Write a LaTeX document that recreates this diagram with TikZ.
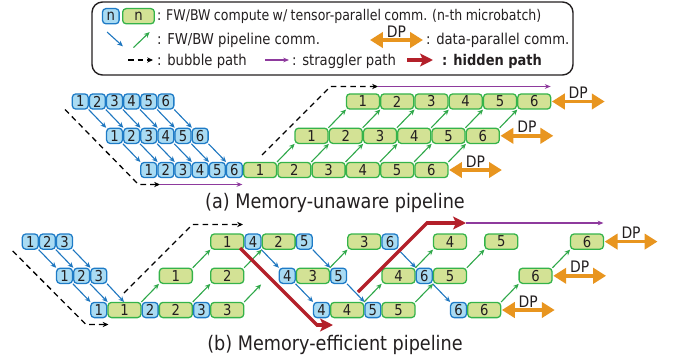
\documentclass[tikz,border=0pt]{standalone}
\usepackage{fontspec}
\setmainfont{DejaVu Sans}[FakeStretch=0.88]
\newfontfamily\narrowfont{DejaVu Sans}[FakeStretch=0.85,WordSpace=0.85]
\usetikzlibrary{arrows.meta,calc}
\definecolor{bfill}{HTML}{A9DBF3}
\definecolor{bdraw}{HTML}{1E7BC6}
\definecolor{gfill}{HTML}{D3E295}
\definecolor{gdraw}{HTML}{35B34A}
\definecolor{barrow}{HTML}{1F77C0}
\definecolor{garrow}{HTML}{2FA84A}
\definecolor{dporange}{HTML}{E8951F}
\definecolor{purp}{HTML}{8E3A9D}
\definecolor{hred}{HTML}{B3202A}
\definecolor{txt}{HTML}{231F20}
\newcommand\BN[4]{\node[bbox] (#1) at ({21.7+17.13*(#2+0.5)},#3) {#4};}
\newcommand\GN[4]{\node[gbox] (#1) at ({21.7+17.13*(#2+1)},#3) {#4};}
\begin{document}
\begin{tikzpicture}[x=0.03cm,y=-0.03cm,
  bbox/.style={draw=bdraw,fill=bfill,line width=1.1pt,rounded corners=3pt,minimum width=0.477cm,minimum height=0.456cm,inner sep=0pt,outer sep=0pt,font=\fontsize{12.8}{13}\selectfont,text=txt},
  gbox/.style={bbox,draw=gdraw,fill=gfill,minimum width=0.989cm},
  barr/.style={draw=barrow,line width=0.95pt,-{Stealth[length=4.8pt,width=4.3pt]},shorten <=0.5pt,shorten >=0.5pt},
  garr/.style={barr,draw=garrow},
  bubble/.style={draw=black,line width=1.1pt,dash pattern=on 4.8pt off 3.5pt,-{Stealth[length=5pt,width=4.5pt]}},
  strag/.style={draw=purp,line width=0.9pt,-{Stealth[length=5pt,width=4pt]}},
  hid/.style={draw=hred,line width=3pt,-{Stealth[length=11pt,width=11pt,inset=2.5pt]}},
  dp/.style={draw=dporange,line width=3.2pt,{Triangle[length=11pt,width=13pt]}-{Triangle[length=11pt,width=13pt]}},
  dpl/.style={font=\fontsize{13.5}{14}\selectfont,text=txt,inner sep=0pt},
  legt/.style={font=\fontsize{12.8}{14}\selectfont,text=txt,inner sep=0pt},
  capt/.style={font=\fontsize{17.1}{18}\selectfont,text=txt,inner sep=0pt},
]
\useasboundingbox (0,0) rectangle (676,361);

% ---------------- legend ----------------
\draw[draw=txt,line width=1.2pt,rounded corners=9pt] (92,2) rectangle (573,75);
\node[bbox,minimum width=0.5cm] (lb) at (110.8,16.2) {n};
\node[gbox,minimum width=0.951cm] (lg) at (138.5,16.2) {n};
\node[legt,anchor=base west,font=\fontsize{12.6}{14}\narrowfont] (l1) at (157,20.5) {: FW/BW compute w/ tensor-parallel comm. (n-th microbatch)};
\coordinate (lba1) at (106.7,31.7); \coordinate (lba2) at (123.3,46.7);
\coordinate (lga1) at (133,48); \coordinate (lga2) at (150,31.7);
\draw[barr] (lba1) -- (lba2);
\draw[garr] (lga1) -- (lga2);
\node[legt,anchor=base west] (l2) at (157,44.5) {: FW/BW pipeline comm.};
\coordinate (ldp1) at (370,40); \coordinate (ldp2) at (423,40);
\draw[dp] (ldp1) -- (ldp2);
\node[dpl] (ldpl) at (396.5,31.5) {DP};
\node[legt,anchor=base west] (l3) at (426,44.5) {: data-parallel comm.};
\coordinate (lbu1) at (128,60); \coordinate (lbu2) at (153,60);
\draw[bubble] (lbu1) -- (lbu2);
\node[legt,anchor=base west] (l4) at (157,65) {: bubble path};
\coordinate (lst1) at (265,60); \coordinate (lst2) at (289,60);
\draw[strag] (lst1) -- (lst2);
\node[legt,anchor=base west] (l5) at (292,65) {: straggler path};
\coordinate (lhi1) at (407,60); \coordinate (lhi2) at (433,60);
\draw[hid] (lhi1) -- (lhi2);
\node[legt,anchor=base west,font=\fontsize{12.6}{14}\selectfont\bfseries] (l6) at (442,65) {: hidden path};

% ---------------- (a) ----------------
\foreach \k in {1,...,6}{
  \node[bbox] (a1b\k) at ({71.7+17.13*(\k-0.5)},101.5) {\k};
  \node[bbox] (a2b\k) at ({71.7+17.13*(\k+1.5)},135.8) {\k};
  \node[bbox] (a3b\k) at ({71.7+17.13*(\k+3.5)},170) {\k};
  \node[gbox] (a3g\k) at ({71.7+17.13*(10+2*\k-1)},170) {\k};
  \node[gbox] (a2g\k) at ({71.7+17.13*(13+2*\k-1)},135.8) {\k};
  \node[gbox] (a1g\k) at ({71.7+17.13*(16+2*\k-1)},101.5) {\k};
}
\foreach \k in {1,...,6}{
  \draw[barr] (a1b\k.south east) -- (a2b\k.north west);
  \draw[barr] (a2b\k.south east) -- (a3b\k.north west);
  \draw[garr] (a3g\k.north east) -- (a2g\k.south west);
  \draw[garr] (a2g\k.north east) -- (a1g\k.south west);
}
\coordinate (da1) at (65,109.5); \coordinate (da2) at (138.5,184.5); \coordinate (da3) at (160,184.5);
\draw[bubble] (da1) -- (da2) -- (da3);
\draw[strag] (da3) -- (da3 -| a3b6.east);
\coordinate (da4) at (262,155); \coordinate (da5) at (330.5,86.5); \coordinate (da6) at (378,86.5);
\draw[bubble] (da4) -- (da5) -- (da6);
\draw[strag] (da6) -- (da6 -| a1g6.east);
\coordinate (dpa1) at ($(a1g6.east)+(54,0)$);
\coordinate (dpa2) at ($(a2g6.east)+(54,0)$);
\coordinate (dpa3) at ($(a3g6.east)+(54,0)$);
\draw[dp] ([xshift=1pt]a1g6.east) -- (dpa1) node[dpl,midway,yshift=0.26cm] (dpla1) {DP};
\draw[dp] ([xshift=1pt]a2g6.east) -- (dpa2) node[dpl,midway,yshift=0.26cm] (dpla2) {DP};
\draw[dp] ([xshift=1pt]a3g6.east) -- (dpa3) node[dpl,midway,yshift=0.26cm] (dpla3) {DP};
\node[capt,anchor=base] (capa) at (335,208) {(a) Memory-unaware pipeline};

% ---------------- (b) ----------------
\BN{b1b1}{0}{241.6}{1}\BN{b1b2}{1}{241.6}{2}\BN{b1b3}{2}{241.6}{3}
\GN{b1g1}{11}{241.6}{1}\BN{b1b4}{13}{241.6}{4}\GN{b1g2}{14}{241.6}{2}\BN{b1b5}{16}{241.6}{5}
\GN{b1g3}{19}{241.6}{3}\BN{b1b6}{21}{241.6}{6}\GN{b1g4}{24}{241.6}{4}\GN{b1g5}{27}{241.6}{5}\GN{b1g6}{32}{241.6}{6}
\BN{b2b1}{2}{275.8}{1}\BN{b2b2}{3}{275.8}{2}\BN{b2b3}{4}{275.8}{3}
\GN{b2g1}{8}{275.8}{1}\GN{b2g2}{11}{275.8}{2}\BN{b2b4}{15}{275.8}{4}\GN{b2g3}{16}{275.8}{3}
\BN{b2b5}{18}{275.8}{5}\GN{b2g4}{21}{275.8}{4}\BN{b2b6}{23}{275.8}{6}\GN{b2g5}{24}{275.8}{5}\GN{b2g6}{29}{275.8}{6}
\BN{b3b1}{4}{310}{1}\GN{b3g1}{5}{310}{1}\BN{b3b2}{7}{310}{2}\GN{b3g2}{8}{310}{2}\BN{b3b3}{10}{310}{3}\GN{b3g3}{11}{310}{3}
\BN{b3b4}{17}{310}{4}\GN{b3g4}{18}{310}{4}\BN{b3b5}{20}{310}{5}\GN{b3g5}{21}{310}{5}\BN{b3b6}{25}{310}{6}\GN{b3g6}{26}{310}{6}

\foreach \k in {1,2,3}{\draw[barr] (b1b\k.south east) -- (b2b\k.north west);}
\draw[barr] (b2b1.south east) -- (b3b1.north west);
\draw[barr] (b2b2.south east) -- (b3g1.north west);
\draw[barr] (b2b3.south east) -- (b3g1.north);
\foreach \k in {4,5,6}{
  \draw[barr] (b1b\k.south east) -- (b2b\k.north west);
  \draw[barr] (b2b\k.south east) -- (b3b\k.north west);
}
\coordinate (bfree) at ({21.7+17.13*14},284);
\draw[garr] (b3g3.north east) -- (bfree);
\foreach \k in {1,2,4,5,6}{\draw[garr] (b3g\k.north east) -- (b2g\k.south west);}
\foreach \k in {1,...,6}{\draw[garr] (b2g\k.north east) -- (b1g\k.south west);}

\coordinate (db1) at (12.7,251); \coordinate (db2) at (86,324.5); \coordinate (db3) at (108.5,324.5);
\draw[bubble] (db1) -- (db2) -- (db3);
\coordinate (db4) at (124,293); \coordinate (db5) at (192.5,224.5); \coordinate (db6) at (243,224.5);
\draw[bubble] (db4) -- (db5) -- (db6);

\coordinate (h1) at (240,248); \coordinate (h2) at (317,325); \coordinate (h3) at (333,325);
\draw[hid,line join=miter] (h1) -- (h2) -- (h3);
\coordinate (h4) at (358,292); \coordinate (h5) at (427,223); \coordinate (h6) at (466,223);
\draw[hid,line join=miter] (h4) -- (h5) -- (h6);
\draw[strag] (h6) -- (h6 -| b1g6.east);

\coordinate (dpb1) at ($(b1g6.east)+(54,0)$);
\coordinate (dpb2) at ($(b2g6.east)+(54,0)$);
\coordinate (dpb3) at ($(b3g6.east)+(54,0)$);
\draw[dp] ([xshift=1pt]b1g6.east) -- (dpb1) node[dpl,midway,yshift=0.26cm] (dplb1) {DP};
\draw[dp] ([xshift=1pt]b2g6.east) -- (dpb2) node[dpl,midway,yshift=0.26cm] (dplb2) {DP};
\draw[dp] ([xshift=1pt]b3g6.east) -- (dpb3) node[dpl,midway,yshift=0.26cm] (dplb3) {DP};
\node[capt,anchor=base] (capb) at (335,350) {(b) Memory-efficient pipeline};
\end{tikzpicture}
\end{document}
